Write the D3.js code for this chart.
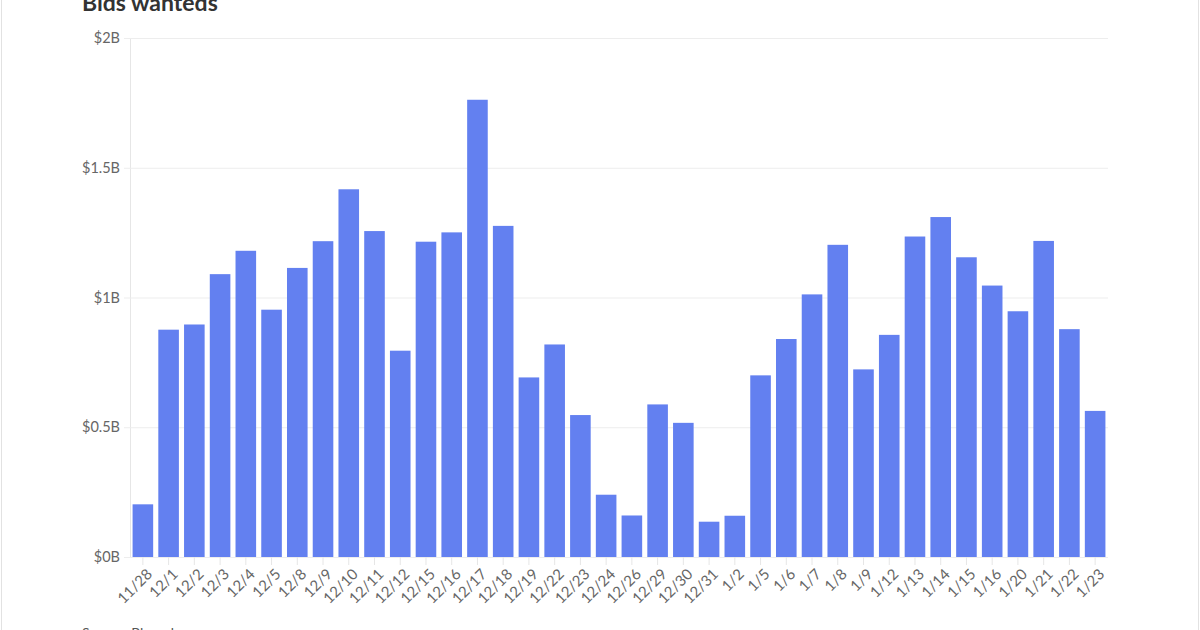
<!DOCTYPE html>
<html>
<head>
<meta charset="utf-8">
<script src="https://cdn.jsdelivr.net/npm/d3@7"></script>
<style>
  html, body { margin: 0; padding: 0; background: #fff; }
  body { width: 1200px; height: 630px; overflow: hidden; font-family: Lato, "Open Sans", sans-serif; }
  .frame { position: absolute; left: 1px; top: 0; width: 1196px; height: 640px; border-left: 1px solid #e2e2e2; border-right: 1px solid #e2e2e2; }
</style>
</head>
<body>
<div class="frame"></div>
<div id="chart"></div>
<script>
// data, in billions of dollars
var dates = ["11/28","12/1","12/2","12/3","12/4","12/5","12/8","12/9","12/10","12/11","12/12",
  "12/15","12/16","12/17","12/18","12/19","12/22","12/23","12/24","12/26","12/29","12/30","12/31",
  "1/2","1/5","1/6","1/7","1/8","1/9","1/12","1/13","1/14","1/15","1/16","1/20","1/21","1/22","1/23"];
var bidsWanted = [0.203, 0.876, 0.896, 1.090, 1.180, 0.953, 1.114, 1.217, 1.417, 1.256, 0.795,
  1.215, 1.251, 1.762, 1.276, 0.692, 0.819, 0.547, 0.240, 0.160, 0.588, 0.517, 0.136,
  0.159, 0.700, 0.840, 1.012, 1.203, 0.723, 0.856, 1.235, 1.310, 1.155, 1.046, 0.947, 1.218, 0.878, 0.563];
var yTicks = [0, 0.5, 1, 1.5, 2];

var width = 1200, height = 630;
var margin = {left: 130, right: 92, top: 38, bottom: 73};

var svg = d3.select("#chart").append("svg")
    .attr("width", width)
    .attr("height", height)
    .style("position", "absolute")
    .style("left", 0)
    .style("top", 0);

var x = d3.scaleBand()
    .domain(dates)
    .range([margin.left, width - margin.right])
    .paddingInner(0.2)
    .paddingOuter(0.1);

var y = d3.scaleLinear()
    .domain([0, 2])
    .range([height - margin.bottom, margin.top]);

// TITLE
svg.append("text")
    .attr("x", 82)
    .attr("y", 11)
    .style("font-family", "Lato")
    .style("font-weight", "bold")
    .style("font-size", "23px")
    .style("fill", "#333")
    .text("Bids wanteds");

// GRID + Y AXIS
var yAxis = svg.append("g")
    .attr("transform", "translate(" + margin.left + ",0)")
    .call(d3.axisLeft(y)
      .tickValues(yTicks)
      .tickSize(0)
      .tickPadding(10)
      .tickFormat(function(d) { return "$" + d + "B"; }));

yAxis.select(".domain").attr("stroke", "#e6e6e6");
yAxis.selectAll(".tick").append("line")
    .attr("x1", -6)
    .attr("x2", width - margin.left - margin.right)
    .attr("stroke", "#ededed");
yAxis.selectAll(".tick text")
    .style("font-family", "Lato")
    .style("font-size", "14.5px")
    .style("fill", "#666");

// BARS
svg.append("g").selectAll("rect")
    .data(bidsWanted)
    .enter().append("rect")
    .attr("x", function(d, i) { return x(dates[i]); })
    .attr("width", x.bandwidth())
    .attr("y", function(d) { return y(d); })
    .attr("height", function(d) { return y(0) - y(d); })
    .attr("fill", "#6380f0");

// X AXIS
var xAxis = svg.append("g")
    .attr("transform", "translate(0," + (height - margin.bottom) + ")")
    .call(d3.axisBottom(x).tickSize(8).tickPadding(4));

xAxis.select(".domain").remove();
xAxis.selectAll(".tick line").attr("stroke", "#e6e6e6");
xAxis.selectAll(".tick text")
    .style("font-family", "Lato")
    .style("font-size", "15px")
    .style("fill", "#666")
    .attr("text-anchor", "end")
    .attr("dy", "0.35em")
    .attr("transform", "translate(-2,6) rotate(-45)");

// SOURCE
svg.append("text")
    .attr("x", 82)
    .attr("y", 638)
    .style("font-family", "Lato")
    .style("font-size", "14px")
    .style("fill", "#555")
    .text("Source: Bloomberg");
</script>
</body>
</html>
